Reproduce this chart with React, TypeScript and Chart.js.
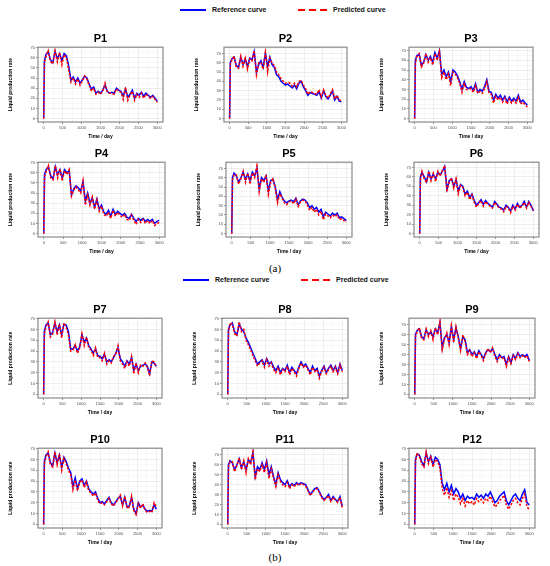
import React, { useEffect, useRef } from 'react';
import { Chart, registerables } from 'chart.js';

Chart.register(...registerables);

// time axis (days), shared by every well
const days = [
  0, 20, 60, 120, 180, 240, 300, 360, 420, 480,
  540, 600, 660, 720, 780, 840, 900, 960, 1020, 1080,
  1140, 1200, 1260, 1320, 1380, 1440, 1500, 1560, 1620, 1680,
  1740, 1800, 1860, 1920, 1980, 2040, 2100, 2160, 2220, 2280,
  2340, 2400, 2460, 2520, 2580, 2640, 2700, 2760, 2820, 2880,
  2940, 3000,
];

const p1Ref = [
  0, 57, 63, 66, 58, 55, 66, 59, 64, 57,
  64, 62, 52, 38, 41, 36, 40, 35, 38, 42,
  40, 34, 29, 31, 25, 27, 25, 28, 33, 27,
  25, 26, 25, 30, 28, 27, 22, 29, 21, 24,
  28, 20, 25, 23, 26, 22, 25, 23, 21, 23,
  20, 17,
];
const p1Pred = [
  0, 55, 61, 67, 56, 54, 67, 56, 65, 53,
  63, 60, 48, 36, 40, 34, 39, 33, 37, 42,
  39, 33, 27, 30, 24, 26, 24, 27, 35, 26,
  25, 25, 24, 29, 27, 26, 19, 31, 18, 23,
  27, 18, 24, 21, 25, 20, 24, 22, 20, 22,
  19, 16,
];

const p2Ref = [
  0, 60, 64, 66, 57, 55, 66, 58, 64, 56,
  65, 63, 72, 50, 58, 62, 55, 70, 56, 66,
  58, 55, 47, 45, 40, 38, 36, 37, 35, 33,
  36, 32, 38, 40, 34, 30, 25, 28, 27, 26,
  25, 29, 22, 30, 24, 21, 25, 30, 20, 24,
  19, 18,
];
const p2Pred = [
  0, 58, 63, 67, 55, 54, 67, 56, 65, 53,
  64, 62, 73, 47, 60, 60, 53, 71, 50, 65,
  60, 57, 50, 47, 43, 40, 38, 39, 38, 35,
  38, 34, 40, 41, 36, 32, 26, 29, 28, 27,
  26, 31, 23, 31, 25, 22, 26, 31, 21, 25,
  20, 19,
];

const p3Ref = [
  0, 60, 65, 66, 55, 58, 66, 60, 64, 58,
  68, 62, 70, 45, 50, 43, 48, 38, 50, 48,
  44, 38, 30, 38, 32, 31, 33, 29, 36, 27,
  30, 28, 33, 40, 28, 27, 19, 25, 21, 24,
  19, 23, 17, 22, 18, 21, 18, 24, 17, 19,
  16, 14,
];
const p3Pred = [
  0, 57, 64, 67, 53, 57, 67, 58, 63, 55,
  67, 60, 69, 42, 48, 40, 46, 34, 48, 46,
  42, 36, 27, 36, 30, 30, 31, 27, 34, 26,
  28, 26, 31, 38, 26, 25, 16, 23, 19, 22,
  17, 21, 15, 20, 16, 19, 16, 22, 15, 17,
  14, 12,
];

const p4Ref = [
  0, 58, 63, 66, 57, 54, 66, 58, 63, 55,
  63, 60, 62, 38, 44, 47, 45, 42, 51, 32,
  40, 30, 35, 26, 34, 24, 28, 21, 19, 23,
  17, 24, 19, 22, 20, 18, 20, 16, 15, 19,
  15, 12, 15, 13, 15, 12, 14, 12, 14, 10,
  12, 13,
];
const p4Pred = [
  0, 56, 61, 67, 55, 53, 67, 55, 64, 52,
  62, 58, 63, 37, 43, 46, 43, 40, 52, 28,
  38, 28, 36, 24, 33, 22, 27, 19, 17, 21,
  15, 23, 17, 21, 18, 16, 19, 14, 13, 18,
  13, 9, 14, 11, 14, 10, 13, 10, 13, 8,
  10, 11,
];

const p5Ref = [
  0, 60, 65, 62, 55, 60, 66, 58, 64, 57,
  66, 62, 70, 48, 60, 57, 62, 46, 57, 58,
  50, 36, 45, 39, 35, 33, 35, 36, 34, 38,
  31, 35, 37, 36, 33, 28, 30, 26, 28, 23,
  26, 18, 23, 21, 19, 22, 20, 22, 17, 18,
  16, 14,
];
const p5Pred = [
  0, 58, 63, 63, 53, 59, 67, 55, 65, 53,
  65, 60, 73, 45, 59, 55, 63, 42, 55, 59,
  49, 33, 43, 38, 33, 31, 34, 35, 32, 37,
  29, 34, 36, 35, 31, 25, 28, 23, 26, 20,
  24, 15, 21, 19, 17, 20, 18, 20, 15, 16,
  14, 12,
];

const p6Ref = [
  0, 60, 65, 60, 55, 65, 58, 63, 58, 65,
  62, 66, 71, 47, 56, 58, 50, 57, 45, 52,
  50, 42, 45, 38, 42, 35, 30, 33, 36, 31,
  35, 32, 30, 28, 34, 31, 28, 27, 25, 30,
  28, 24, 30, 26, 32, 28, 30, 34, 28, 34,
  30, 24,
];
const p6Pred = [
  0, 58, 66, 58, 54, 66, 56, 64, 55, 66,
  61, 67, 72, 44, 55, 59, 48, 58, 42, 51,
  49, 40, 44, 36, 41, 33, 28, 32, 35, 29,
  34, 31, 29, 27, 33, 30, 27, 26, 23, 29,
  27, 22, 29, 25, 31, 27, 29, 33, 27, 33,
  29, 25,
];

const p7Ref = [
  0, 58, 64, 66, 55, 57, 66, 58, 64, 55,
  65, 64, 58, 42, 42, 45, 40, 44, 55, 48,
  52, 45, 42, 38, 42, 36, 35, 33, 37, 30,
  32, 30, 34, 38, 43, 33, 30, 26, 31, 28,
  34, 22, 28, 22, 26, 27, 28, 26, 19, 30,
  29, 26,
];
const p7Pred = [
  0, 56, 62, 67, 53, 56, 67, 55, 65, 52,
  66, 62, 55, 40, 41, 46, 38, 43, 56, 45,
  53, 43, 41, 36, 43, 34, 34, 31, 38, 28,
  31, 29, 35, 37, 45, 31, 28, 24, 30, 26,
  35, 19, 29, 20, 27, 26, 29, 25, 17, 31,
  30, 25,
];

const p8Ref = [
  0, 60, 64, 66, 58, 55, 65, 60, 58, 52,
  48, 43, 38, 33, 28, 30, 32, 27, 33, 28,
  30, 25, 22, 26, 20, 24, 22, 27, 20, 25,
  22, 19, 25, 30, 26, 28, 24, 20, 26, 22,
  24, 17, 22, 26, 20, 24, 27, 22, 26, 20,
  28, 22,
];
const p8Pred = [
  0, 58, 66, 65, 56, 54, 67, 58, 60, 50,
  46, 41, 36, 31, 26, 29, 31, 25, 32, 26,
  29, 23, 20, 25, 18, 23, 21, 26, 18, 24,
  21, 17, 24, 29, 25, 27, 23, 18, 25, 21,
  23, 15, 21, 25, 19, 23, 26, 21, 25, 19,
  27, 21,
];

const p9Ref = [
  0, 60, 64, 66, 58, 56, 65, 60, 63, 58,
  66, 62, 72, 47, 57, 60, 52, 68, 55, 67,
  58, 46, 58, 55, 42, 45, 40, 43, 38, 44,
  40, 36, 42, 45, 43, 46, 40, 35, 40, 37,
  38, 30, 38, 32, 40, 36, 42, 38, 40, 38,
  40, 34,
];
const p9Pred = [
  0, 58, 63, 67, 56, 55, 66, 58, 64, 55,
  67, 60, 73, 45, 56, 62, 50, 69, 52, 68,
  57, 44, 60, 53, 40, 44, 38, 42, 36, 43,
  39, 34, 41, 46, 42, 47, 38, 33, 39, 36,
  37, 28, 37, 31, 39, 35, 41, 37, 39, 37,
  39, 33,
];

const p10Ref = [
  0, 58, 64, 66, 57, 54, 66, 57, 64, 53,
  62, 58, 52, 48, 35, 43, 33, 40, 42, 36,
  40, 33, 30, 28, 30, 24, 20, 21, 19, 22,
  25, 20, 18, 21, 24, 26, 18, 25, 16, 17,
  25, 14, 10, 20, 16, 18, 14, 12, 13, 12,
  18, 14,
];
const p10Pred = [
  0, 56, 62, 67, 55, 53, 67, 55, 65, 50,
  61, 56, 50, 46, 32, 41, 31, 39, 41, 34,
  39, 31, 29, 26, 29, 22, 19, 20, 18, 21,
  24, 19, 17, 20, 23, 27, 17, 26, 15, 16,
  26, 13, 9, 19, 15, 19, 13, 11, 12, 11,
  20, 16,
];

const p11Ref = [
  0, 60, 64, 62, 55, 60, 66, 57, 63, 55,
  65, 62, 72, 48, 58, 55, 62, 55, 64, 50,
  58, 48, 40, 52, 45, 42, 40, 44, 38, 41,
  39, 42, 40, 42, 41, 40, 35, 30, 33, 36,
  37, 33, 28, 25, 27, 30, 24, 28, 25, 23,
  28, 18,
];
const p11Pred = [
  0, 58, 63, 63, 53, 59, 67, 55, 64, 52,
  66, 60, 73, 45, 56, 53, 60, 52, 62, 46,
  56, 46, 38, 50, 43, 40, 38, 42, 36, 40,
  38, 41, 39, 41, 40, 39, 34, 29, 32, 35,
  36, 32, 27, 24, 26, 29, 23, 27, 24, 22,
  27, 17,
];

const p12Ref = [
  0, 60, 65, 64, 58, 54, 66, 58, 63, 55,
  62, 60, 55, 38, 32, 38, 30, 36, 28, 33,
  30, 24, 28, 22, 26, 24, 25, 23, 28, 25,
  27, 24, 28, 26, 30, 25, 20, 22, 26, 28,
  30, 22, 18, 22, 26, 28, 24, 22, 28, 32,
  20, 18,
];
const p12Pred = [
  0, 58, 66, 63, 56, 53, 67, 56, 62, 53,
  60, 58, 52, 33, 27, 34, 25, 31, 22, 28,
  25, 19, 24, 17, 22, 19, 21, 18, 24, 21,
  23, 20, 24, 22, 26, 21, 16, 18, 22, 24,
  27, 18, 14, 18, 22, 24, 20, 18, 24, 28,
  16, 14,
];

// axis ticks (labelled) and minor grid values
const xTicks = [0, 500, 1000, 1500, 2000, 2500, 3000];
const xMinor = [250, 750, 1250, 1750, 2250, 2750];
const yTicks = [0, 10, 20, 30, 40, 50, 60, 70];
const yMinor = [5, 15, 25, 35, 45, 55, 65, 75];

const FONT = '"Liberation Sans", Arial, Helvetica, sans-serif';
const TITLE_H = 15.2;
const Y_AXIS_W = 38;
const X_AXIS_H = 20;
const PAD_R = 8;

const panelBorder = {
  id: 'panelBorder',
  afterDraw(chart: Chart) {
    const { ctx, chartArea: a } = chart;
    ctx.save();
    ctx.strokeStyle = '#8a8a8a';
    ctx.lineWidth = 1.2;
    ctx.strokeRect(a.left, a.top, a.right - a.left, a.bottom - a.top);
    ctx.restore();
  },
};

function gridValues(major: number[], minor: number[], min: number, max: number) {
  return [...major, ...minor]
    .filter(v => v >= min && v <= max)
    .sort((a, b) => a - b)
    .map(v => ({ value: v }));
}

interface PanelProps {
  title: string;
  reference: number[];
  predicted: number[];
  box: [number, number, number, number]; // plot area: left, top, right, bottom
}

const Panel: React.FC<PanelProps> = ({ title, reference, predicted, box }) => {
  const canvasRef = useRef<HTMLCanvasElement>(null);
  const [bl, bt, br, bb] = box;
  const left = bl - Y_AXIS_W;
  const top = bt - TITLE_H;
  const width = br + PAD_R - left;
  const height = bb + X_AXIS_H - top;

  useEffect(() => {
    const ctx = canvasRef.current?.getContext('2d');
    if (!ctx) return;

    const all = [...reference, ...predicted];
    const hi = Math.max(...all);
    const lo = Math.min(...all);
    const span = hi - lo;

    const tickFont = { family: FONT, size: 4 };
    const titleFont = { family: FONT, size: 5, weight: 'bold' as const };

    const chart = new Chart(ctx, {
      type: 'line',
      data: {
        datasets: [
          {
            label: 'Predicted curve',
            data: days.map((d, i) => ({ x: d, y: predicted[i] })),
            borderColor: '#ff0000',
            borderWidth: 1.5,
            borderDash: [2.2, 1.6],
            pointRadius: 0,
            fill: false,
          },
          {
            label: 'Reference curve',
            data: days.map((d, i) => ({ x: d, y: reference[i] })),
            borderColor: '#0000ff',
            borderWidth: 1.5,
            pointRadius: 0,
            fill: false,
          },
        ],
      },
      options: {
        animation: false,
        responsive: false,
        layout: { padding: { left: 0, right: PAD_R, top: 0, bottom: 0 } },
        plugins: {
          legend: { display: false },
          tooltip: { enabled: false },
          title: {
            display: true,
            text: title,
            color: '#000',
            fullSize: false,
            font: { family: FONT, size: 11, weight: 'bold' },
            padding: { top: 0, bottom: 2 },
          },
        },
        scales: {
          x: {
            type: 'linear',
            min: -150,
            max: 3150,
            afterBuildTicks: (s: any) => {
              s.ticks = gridValues(xTicks, xMinor, s.min, s.max);
            },
            afterFit: (s: any) => {
              s.height = X_AXIS_H;
            },
            ticks: {
              autoSkip: false,
              maxRotation: 0,
              minRotation: 0,
              padding: 1,
              color: '#4d4d4d',
              font: tickFont,
              callback: (v: any) => (xTicks.includes(Number(v)) ? String(v) : ''),
            },
            grid: {
              color: (c: any) => (xTicks.includes(c.tick?.value) ? '#e3e3e3' : '#f1f1f1'),
              tickColor: (c: any) => (xTicks.includes(c.tick?.value) ? '#555' : 'rgba(0,0,0,0)'),
              tickLength: 2,
              lineWidth: 0.6,
            },
            border: { display: false },
            title: {
              display: true,
              text: 'Time / day',
              color: '#000',
              font: titleFont,
              padding: { top: 0, bottom: 2 },
            },
          },
          y: {
            type: 'linear',
            min: lo - span * 0.05,
            max: hi + span * 0.05,
            afterBuildTicks: (s: any) => {
              s.ticks = gridValues(yTicks, yMinor, s.min, s.max);
            },
            afterFit: (s: any) => {
              s.width = Y_AXIS_W;
            },
            ticks: {
              autoSkip: false,
              padding: 1,
              color: '#4d4d4d',
              font: tickFont,
              callback: (v: any) => (yTicks.includes(Number(v)) ? String(v) : ''),
            },
            grid: {
              color: (c: any) => (yTicks.includes(c.tick?.value) ? '#e3e3e3' : '#f1f1f1'),
              tickColor: (c: any) => (yTicks.includes(c.tick?.value) ? '#555' : 'rgba(0,0,0,0)'),
              tickLength: 2,
              lineWidth: 0.6,
            },
            border: { display: false },
            title: {
              display: true,
              text: 'Liquid production rate',
              color: '#000',
              font: titleFont,
              padding: { top: 8, bottom: 0 },
            },
          },
        },
      },
      plugins: [panelBorder],
    });

    return () => chart.destroy();
  }, [title, reference, predicted, width, height]);

  return (
    <canvas
      ref={canvasRef}
      width={width}
      height={height}
      style={{ position: 'absolute', left, top, width, height }}
    />
  );
};

const panels: PanelProps[] = [
  { title: 'P1', reference: p1Ref, predicted: p1Pred, box: [37.5, 47, 163, 122] },
  { title: 'P2', reference: p2Ref, predicted: p2Pred, box: [224, 47, 347, 122] },
  { title: 'P3', reference: p3Ref, predicted: p3Pred, box: [409, 47, 533, 122] },
  { title: 'P4', reference: p4Ref, predicted: p4Pred, box: [37.5, 162, 165, 237] },
  { title: 'P5', reference: p5Ref, predicted: p5Pred, box: [226, 162, 352, 237] },
  { title: 'P6', reference: p6Ref, predicted: p6Pred, box: [414, 162, 539, 237] },
  { title: 'P7', reference: p7Ref, predicted: p7Pred, box: [37.5, 318, 162, 398] },
  { title: 'P8', reference: p8Ref, predicted: p8Pred, box: [222, 318, 348, 398] },
  { title: 'P9', reference: p9Ref, predicted: p9Pred, box: [409, 318, 535, 398] },
  { title: 'P10', reference: p10Ref, predicted: p10Pred, box: [37.5, 448, 162, 528] },
  { title: 'P11', reference: p11Ref, predicted: p11Pred, box: [222, 448, 348, 528] },
  { title: 'P12', reference: p12Ref, predicted: p12Pred, box: [409, 448, 535, 528] },
];

const Legend: React.FC<{ y: number; x: number }> = ({ y, x }) => {
  const text: React.CSSProperties = {
    position: 'absolute',
    top: y - 5,
    lineHeight: '10px',
    fontFamily: FONT,
    fontWeight: 'bold',
    fontSize: 7,
    color: '#111',
    whiteSpace: 'nowrap',
  };
  return (
    <>
      <div style={{ position: 'absolute', left: x, top: y - 1, width: 26, height: 2, background: '#0000ff' }} />
      <span style={{ ...text, left: x + 32 }}>Reference curve</span>
      <div
        style={{
          position: 'absolute',
          left: x + 118,
          top: y - 1,
          width: 29,
          height: 2,
          background: 'repeating-linear-gradient(to right, #ff0000 0 7px, transparent 7px 11px)',
        }}
      />
      <span style={{ ...text, left: x + 153 }}>Predicted curve</span>
    </>
  );
};

const App: React.FC = () => {
  const caption: React.CSSProperties = {
    position: 'absolute',
    left: 0,
    width: 550,
    textAlign: 'center',
    fontFamily: '"Liberation Serif", "Times New Roman", serif',
    fontSize: 11,
    lineHeight: '12px',
  };
  return (
    <div style={{ position: 'absolute', left: 0, top: 0, width: 550, height: 566, background: '#fff', overflow: 'hidden' }}>
      <Legend x={180} y={10} />
      {panels.map(p => (
        <Panel key={p.title} {...p} />
      ))}
      <div style={{ ...caption, top: 262 }}>(a)</div>
      <Legend x={183} y={280} />
      <div style={{ ...caption, top: 551 }}>(b)</div>
    </div>
  );
};

export default App;
